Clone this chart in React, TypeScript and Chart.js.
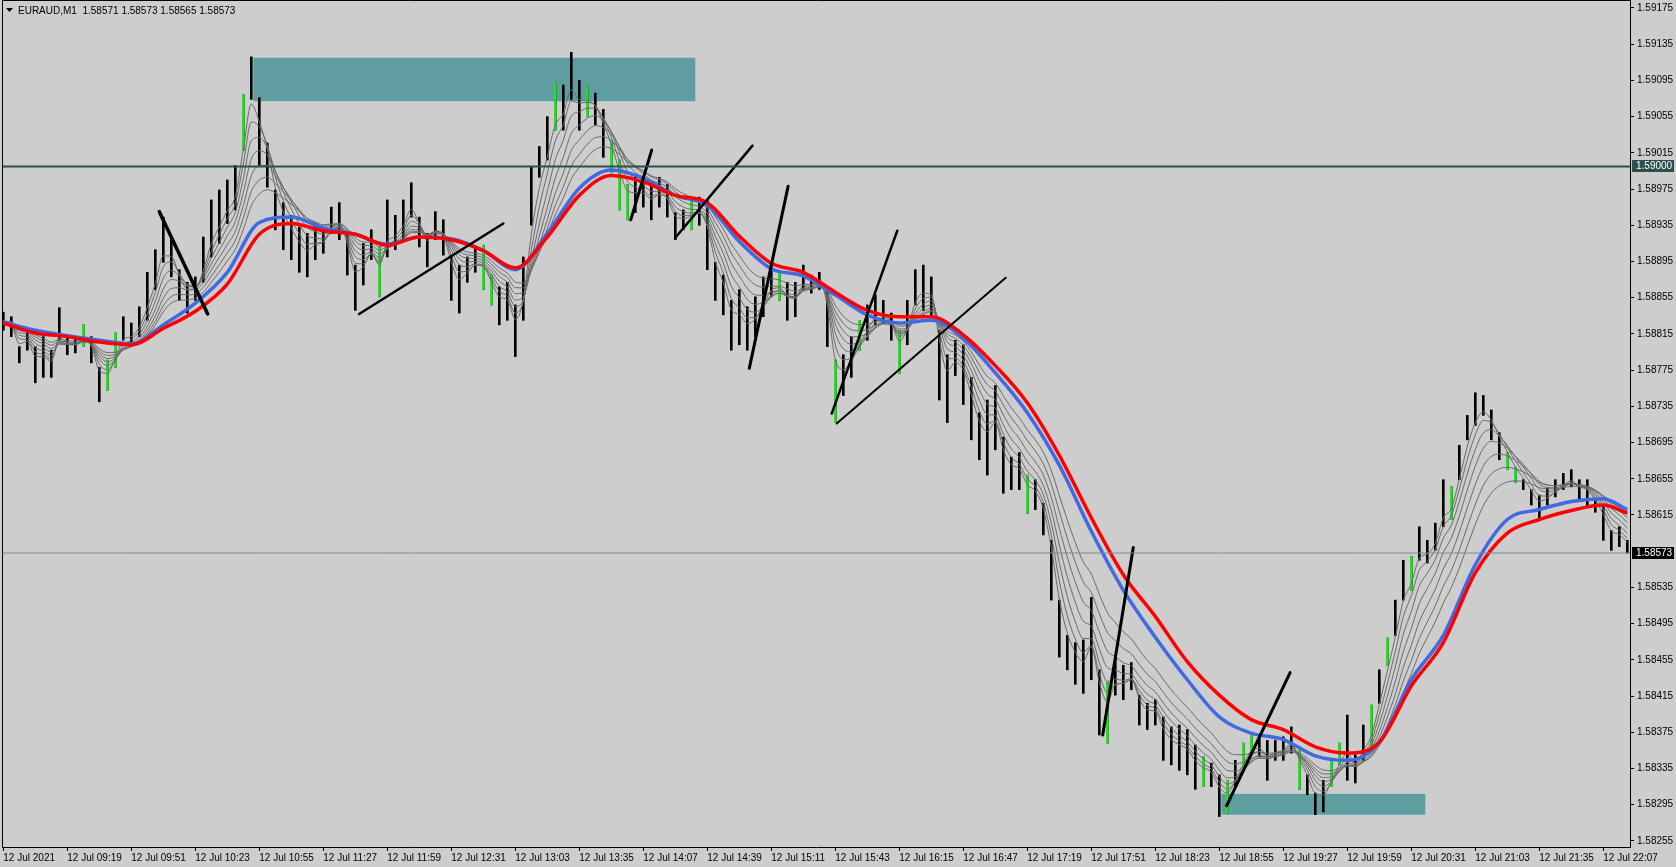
import React, { useEffect, useRef } from "react";
import { Chart, registerables } from "chart.js";
Chart.register(...registerables);

const FONT = "'Liberation Sans', Arial, sans-serif";

const symbolTitle = "EURAUD,M1  1.58571 1.58573 1.58565 1.58573";

const timeLabels = [
  "12 Jul 2021", "12 Jul 09:19", "12 Jul 09:51", "12 Jul 10:23", "12 Jul 10:55", "12 Jul 11:27",
  "12 Jul 11:59", "12 Jul 12:31", "12 Jul 13:03", "12 Jul 13:35", "12 Jul 14:07", "12 Jul 14:39",
  "12 Jul 15:11", "12 Jul 15:43", "12 Jul 16:15", "12 Jul 16:47", "12 Jul 17:19", "12 Jul 17:51",
  "12 Jul 18:23", "12 Jul 18:55", "12 Jul 19:27", "12 Jul 19:59", "12 Jul 20:31", "12 Jul 21:03",
  "12 Jul 21:35", "12 Jul 22:07",
];
const labelStepMinutes = 32;

const priceTicks = [
  1.59175, 1.59135, 1.59095, 1.59055, 1.59015, 1.58975, 1.58935, 1.58895, 1.58855, 1.58815,
  1.58775, 1.58735, 1.58695, 1.58655, 1.58615, 1.58535, 1.58495, 1.58455, 1.58415, 1.58375,
  1.58335, 1.58295, 1.58255,
];

// one sample every 4 one-minute bars
const sampleStepMinutes = 4;
const highs = [
  1.58839, 1.58834, 1.58801, 1.58819, 1.58801, 1.58812, 1.58797, 1.58844, 1.58812, 1.58811,
  1.58825, 1.58812, 1.58778, 1.58786, 1.58816, 1.58834, 1.58827, 1.58845, 1.58883, 1.58908,
  1.58944, 1.58922, 1.58886, 1.58872, 1.58878, 1.58922, 1.58963, 1.58974, 1.58985, 1.59001,
  1.59079, 1.59121, 1.59076, 1.59026, 1.58974, 1.58960, 1.58946, 1.58933, 1.58926, 1.58937,
  1.58933, 1.58955, 1.58960, 1.58924, 1.58891, 1.58915, 1.58930, 1.58911, 1.58963, 1.58946,
  1.58963, 1.58982, 1.58944, 1.58926, 1.58950, 1.58941, 1.58902, 1.58891, 1.58900, 1.58911,
  1.58913, 1.58880, 1.58867, 1.58872, 1.58847, 1.58900, 1.58999, 1.59022, 1.59055, 1.59092,
  1.59090, 1.59126, 1.59095, 1.59088, 1.59081, 1.59063, 1.59029, 1.59007, 1.58980, 1.58990,
  1.58985, 1.58980, 1.58988, 1.58980, 1.58949, 1.58952, 1.58963, 1.58966, 1.58963, 1.58894,
  1.58880, 1.58852, 1.58864, 1.58845, 1.58856, 1.58878, 1.58889, 1.58883, 1.58872, 1.58872,
  1.58891, 1.58880, 1.58883, 1.58864, 1.58786, 1.58792, 1.58812, 1.58830, 1.58847, 1.58858,
  1.58852, 1.58838, 1.58819, 1.58852, 1.58886, 1.58891, 1.58878, 1.58819, 1.58792, 1.58808,
  1.58803, 1.58767, 1.58728, 1.58742, 1.58758, 1.58701, 1.58679, 1.58684, 1.58659, 1.58654,
  1.58628, 1.58587, 1.58521, 1.58482, 1.58474, 1.58477, 1.58524, 1.58444, 1.58430, 1.58460,
  1.58449, 1.58452, 1.58416, 1.58407, 1.58411, 1.58392, 1.58381, 1.58383, 1.58378, 1.58361,
  1.58348, 1.58341, 1.58328, 1.58322, 1.58344, 1.58363, 1.58374, 1.58370, 1.58366, 1.58366,
  1.58370, 1.58381, 1.58359, 1.58328, 1.58308, 1.58322, 1.58344, 1.58363, 1.58394, 1.58350,
  1.58383, 1.58405, 1.58444, 1.58479, 1.58521, 1.58565, 1.58569, 1.58602, 1.58587, 1.58606,
  1.58654, 1.58646, 1.58692, 1.58725, 1.58750, 1.58747, 1.58731, 1.58706, 1.58684, 1.58667,
  1.58654, 1.58643, 1.58637, 1.58645, 1.58654, 1.58661, 1.58665, 1.58654, 1.58654, 1.58632,
  1.58626, 1.58598, 1.58602, 1.58587,
];
const lows = [
  1.58819, 1.58812, 1.58783, 1.58797, 1.58761, 1.58767, 1.58767, 1.58808, 1.58792, 1.58794,
  1.58801, 1.58783, 1.58740, 1.58753, 1.58778, 1.58808, 1.58801, 1.58812, 1.58830, 1.58864,
  1.58894, 1.58878, 1.58852, 1.58838, 1.58852, 1.58872, 1.58900, 1.58915, 1.58937, 1.58952,
  1.59018, 1.59074, 1.59001, 1.58977, 1.58930, 1.58908, 1.58897, 1.58883, 1.58878, 1.58897,
  1.58904, 1.58926, 1.58919, 1.58880, 1.58841, 1.58869, 1.58897, 1.58856, 1.58900, 1.58908,
  1.58919, 1.58944, 1.58911, 1.58889, 1.58919, 1.58902, 1.58852, 1.58838, 1.58872, 1.58883,
  1.58864, 1.58847, 1.58825, 1.58830, 1.58790, 1.58830, 1.58935, 1.58988, 1.59007, 1.59040,
  1.59040, 1.59074, 1.59040, 1.59055, 1.59046, 1.59010, 1.58993, 1.58952, 1.58941, 1.58949,
  1.58955, 1.58941, 1.58955, 1.58944, 1.58919, 1.58930, 1.58930, 1.58935, 1.58886, 1.58852,
  1.58836, 1.58797, 1.58803, 1.58797, 1.58812, 1.58834, 1.58856, 1.58852, 1.58830, 1.58834,
  1.58864, 1.58860, 1.58864, 1.58801, 1.58717, 1.58747, 1.58767, 1.58797, 1.58808, 1.58825,
  1.58827, 1.58808, 1.58771, 1.58803, 1.58847, 1.58841, 1.58836, 1.58742, 1.58717, 1.58769,
  1.58737, 1.58698, 1.58676, 1.58659, 1.58687, 1.58639, 1.58643, 1.58643, 1.58617, 1.58621,
  1.58593, 1.58521, 1.58458, 1.58444, 1.58428, 1.58418, 1.58433, 1.58372, 1.58363, 1.58416,
  1.58411, 1.58422, 1.58383, 1.58378, 1.58383, 1.58344, 1.58339, 1.58333, 1.58328, 1.58312,
  1.58315, 1.58315, 1.58282, 1.58286, 1.58315, 1.58337, 1.58352, 1.58348, 1.58322, 1.58344,
  1.58344, 1.58352, 1.58312, 1.58306, 1.58284, 1.58287, 1.58315, 1.58339, 1.58322, 1.58319,
  1.58344, 1.58355, 1.58407, 1.58449, 1.58482, 1.58521, 1.58532, 1.58565, 1.58562, 1.58576,
  1.58602, 1.58610, 1.58654, 1.58698, 1.58714, 1.58725, 1.58698, 1.58676, 1.58665, 1.58651,
  1.58643, 1.58626, 1.58610, 1.58626, 1.58635, 1.58643, 1.58646, 1.58632, 1.58626, 1.58618,
  1.58587, 1.58576, 1.58580, 1.58573,
];
const greenBars = [10, 13, 14, 30, 47, 60, 61, 69, 73, 76, 77, 78, 86, 97, 104, 107, 112, 128, 138, 150, 153, 155, 156, 162, 166, 167, 171, 173, 176, 181, 188, 189];

// moving averages, one value every 16 minutes (last one at 812)
const maMinutes = [
  0, 16, 32, 48, 64, 80, 96, 112, 128, 144, 160, 176, 192, 208, 224, 240, 256, 272, 288, 304,
  320, 336, 352, 368, 384, 400, 416, 432, 448, 464, 480, 496, 512, 528, 544, 560, 576, 592, 608,
  624, 640, 656, 672, 688, 704, 720, 736, 752, 768, 784, 800, 812,
];
const redMA = [
  1.58827, 1.58816, 1.58812, 1.58806, 1.58803, 1.58821, 1.58840, 1.58870, 1.58925, 1.58937,
  1.58929, 1.58925, 1.58913, 1.58922, 1.58919, 1.58907, 1.58888, 1.58922, 1.58968, 1.58990,
  1.58983, 1.58968, 1.58960, 1.58923, 1.58893, 1.58883, 1.58861, 1.58841, 1.58834, 1.58834,
  1.58814, 1.58780, 1.58739, 1.58681, 1.58612, 1.58549, 1.58503, 1.58453, 1.58416, 1.58389,
  1.58378, 1.58359, 1.58352, 1.58364, 1.58426, 1.58474, 1.58551, 1.58595, 1.58610, 1.58620,
  1.58626, 1.58617,
];
const blueMA = [
  1.58828, 1.58819, 1.58813, 1.58808, 1.58804, 1.58825, 1.58849, 1.58883, 1.58938, 1.58944,
  1.58932, 1.58925, 1.58914, 1.58922, 1.58920, 1.58907, 1.58886, 1.58926, 1.58976, 1.58996,
  1.58987, 1.58968, 1.58957, 1.58917, 1.58887, 1.58879, 1.58858, 1.58836, 1.58827, 1.58830,
  1.58810, 1.58772, 1.58728, 1.58670, 1.58597, 1.58532, 1.58480, 1.58433, 1.58392, 1.58374,
  1.58367, 1.58349, 1.58344, 1.58364, 1.58433, 1.58482, 1.58560, 1.58610, 1.58621, 1.58630,
  1.58633, 1.58621,
];
// thin ribbon: EMA periods in minutes, computed from the bars above
const greyPeriods = [8, 12, 17, 23, 30, 38, 47];

// hand-drawn trend lines: [startMinute, startPrice, endMinute, endPrice]
const trendLines = [
  [78.0, 1.5895, 102.2, 1.58837],
  [177.9, 1.58837, 250.0, 1.58937],
  [313.7, 1.58941, 324.2, 1.59018],
  [335.9, 1.58921, 374.6, 1.59023],
  [373.0, 1.58777, 392.4, 1.58978],
  [414.2, 1.58727, 447.0, 1.58929],
  [416.7, 1.58716, 501.2, 1.58877],
  [549.7, 1.58372, 565.0, 1.58579],
  [611.7, 1.58294, 643.4, 1.58441],
];
const trendWidths = [3.5, 2.5, 3, 2.5, 3, 2.5, 2, 3, 3];

// zones: [startMinute, endMinute, topPrice, bottomPrice]
const zones = [
  [125, 346, 1.5912, 1.59072],
  [609, 711, 1.58307, 1.58284],
];

const levelLine = 1.59;
const bidLine = 1.58573;

const X_MIN = -0.65;
const X_MAX = 813.35;
const Y_MIN = 1.582483;
const Y_MAX = 1.591838;

function ema(values: number[], periodMin: number, stepMin: number) {
  const a1 = 2 / (periodMin + 1);
  const a = 1 - Math.pow(1 - a1, stepMin);
  const out: number[] = [];
  let e = values[0];
  for (const v of values) {
    e = e + a * (v - e);
    out.push(e);
  }
  return out;
}

export default function App() {
  const ref = useRef<HTMLCanvasElement | null>(null);

  useEffect(() => {
    const canvas = ref.current;
    if (!canvas) return;
    const mids = highs.map((h, i) => (h + lows[i]) / 2);

    const datasets: any[] = [];
    datasets.push({
      type: "bar",
      data: highs.map((h, i) => ({ x: i * sampleStepMinutes, y: [lows[i], h] })),
      backgroundColor: "#000000",
      borderWidth: 0,
      barThickness: 2,
      grouped: false,
      order: 20,
    });
    datasets.push({
      type: "bar",
      data: greenBars.map((i) => ({ x: i * sampleStepMinutes, y: [lows[i], highs[i]] })),
      backgroundColor: "#1ee61e",
      borderWidth: 0,
      barThickness: 2,
      grouped: false,
      order: 19,
    });
    greyPeriods.forEach((p) => {
      const e = ema(mids, p, sampleStepMinutes);
      datasets.push({
        type: "line",
        data: e.map((v, i) => ({ x: i * sampleStepMinutes, y: v })),
        borderColor: "#6a6a6a",
        borderWidth: 1,
        pointRadius: 0,
        cubicInterpolationMode: "monotone",
        order: 15,
      });
    });
    datasets.push({
      type: "line",
      data: blueMA.map((v, i) => ({ x: maMinutes[i], y: v })),
      borderColor: "#4169e1",
      borderWidth: 3.5,
      pointRadius: 0,
      cubicInterpolationMode: "monotone",
      order: 8,
    });
    datasets.push({
      type: "line",
      data: redMA.map((v, i) => ({ x: maMinutes[i], y: v })),
      borderColor: "#ff0000",
      borderWidth: 3.5,
      pointRadius: 0,
      cubicInterpolationMode: "monotone",
      order: 7,
    });
    trendLines.forEach((t, i) => {
      datasets.push({
        type: "line",
        data: [
          { x: t[0], y: t[1] },
          { x: t[2], y: t[3] },
        ],
        borderColor: "#000000",
        borderWidth: trendWidths[i],
        borderCapStyle: "round",
        pointRadius: 0,
        order: 3,
      });
    });
    datasets.push({
      type: "line",
      data: [
        { x: X_MIN - 5, y: levelLine },
        { x: X_MAX + 5, y: levelLine },
      ],
      borderColor: "#2f4f4f",
      borderWidth: 2,
      pointRadius: 0,
      order: 2,
    });
    datasets.push({
      type: "line",
      data: [
        { x: X_MIN - 5, y: bidLine },
        { x: X_MAX + 5, y: bidLine },
      ],
      borderColor: "#778899",
      borderWidth: 1,
      pointRadius: 0,
      order: 2,
    });

    const decor = {
      id: "decor",
      beforeDraw(chart: any) {
        const ctx = chart.ctx;
        ctx.save();
        ctx.fillStyle = "#cdcdcd";
        ctx.fillRect(0, 0, chart.width, chart.height);
        ctx.restore();
      },
      beforeDatasetsDraw(chart: any) {
        const ctx = chart.ctx;
        const xs = chart.scales.x;
        const ys = chart.scales.y;
        ctx.save();
        ctx.fillStyle = "#5f9ea0";
        zones.forEach((z) => {
          const x1 = xs.getPixelForValue(z[0]);
          const x2 = xs.getPixelForValue(z[1]);
          const y1 = ys.getPixelForValue(z[2]);
          const y2 = ys.getPixelForValue(z[3]);
          ctx.fillRect(x1, y1, x2 - x1, y2 - y1);
        });
        ctx.restore();
      },
      afterDraw(chart: any) {
        const ctx = chart.ctx;
        const a = chart.chartArea;
        const ys = chart.scales.y;
        ctx.save();
        ctx.strokeStyle = "#000";
        ctx.lineWidth = 1;
        ctx.beginPath();
        ctx.moveTo(a.left + 0.5, a.bottom);
        ctx.lineTo(a.left + 0.5, a.top + 0.5);
        ctx.lineTo(a.right, a.top + 0.5);
        ctx.stroke();
        // title
        ctx.fillStyle = "#000";
        ctx.beginPath();
        ctx.moveTo(6, 8);
        ctx.lineTo(13, 8);
        ctx.lineTo(9.5, 12);
        ctx.closePath();
        ctx.fill();
        ctx.font = `10px ${FONT}`;
        ctx.textBaseline = "middle";
        ctx.textAlign = "left";
        ctx.fillText(symbolTitle, 18, 11);
        // price markers
        const markers: [number, string][] = [
          [levelLine, "#2f4f4f"],
          [bidLine, "#000000"],
        ];
        markers.forEach(([p, col]) => {
          const y = Math.round(ys.getPixelForValue(p));
          ctx.fillStyle = col;
          ctx.fillRect(a.right + 2, y - 6, 42, 12);
          ctx.fillStyle = "#ffffff";
          ctx.fillText(p.toFixed(5), a.right + 6, y + 0.5);
        });
        ctx.restore();
      },
    };

    const chart = new Chart(canvas, {
      type: "bar",
      data: { datasets },
      options: {
        responsive: false,
        animation: false,
        events: [],
        layout: { padding: { left: 2, top: 0, right: 0, bottom: 0 } },
        plugins: { legend: { display: false }, tooltip: { enabled: false } },
        scales: {
          x: {
            type: "linear",
            min: X_MIN,
            max: X_MAX,
            offset: false,
            afterBuildTicks: (s: any) => {
              s.ticks = timeLabels.map((_, i) => ({ value: i * labelStepMinutes }));
            },
            afterFit: (s: any) => {
              s.height = 20;
              s.paddingLeft = 0;
              s.paddingRight = 0;
            },
            ticks: {
              autoSkip: false,
              maxRotation: 0,
              minRotation: 0,
              align: "start",
              padding: 1,
              color: "#000",
              font: { family: FONT, size: 10 },
              callback: (_v: any, i: number) => timeLabels[i],
            },
            grid: { drawOnChartArea: false, drawTicks: true, tickLength: 4, color: "#000", offset: false },
            border: { display: true, color: "#000" },
          },
          y: {
            type: "linear",
            position: "right",
            min: Y_MIN,
            max: Y_MAX,
            afterBuildTicks: (s: any) => {
              s.ticks = priceTicks.map((v) => ({ value: v }));
            },
            afterFit: (s: any) => {
              s.width = 46;
              s.paddingTop = 0;
              s.paddingBottom = 0;
            },
            ticks: {
              color: "#000",
              padding: 3,
              font: { family: FONT, size: 10 },
              callback: (v: any) => Number(v).toFixed(5),
            },
            grid: { drawOnChartArea: false, drawTicks: true, tickLength: 4, color: "#000" },
            border: { display: true, color: "#000" },
          },
        },
      } as any,
      plugins: [decor],
    });
    return () => chart.destroy();
  }, []);

  return (
    <div style={{ position: "fixed", left: 0, top: 0, width: 1676, height: 867, background: "#cdcdcd" }}>
      <canvas ref={ref} width={1676} height={867} style={{ display: "block" }} />
    </div>
  );
}
